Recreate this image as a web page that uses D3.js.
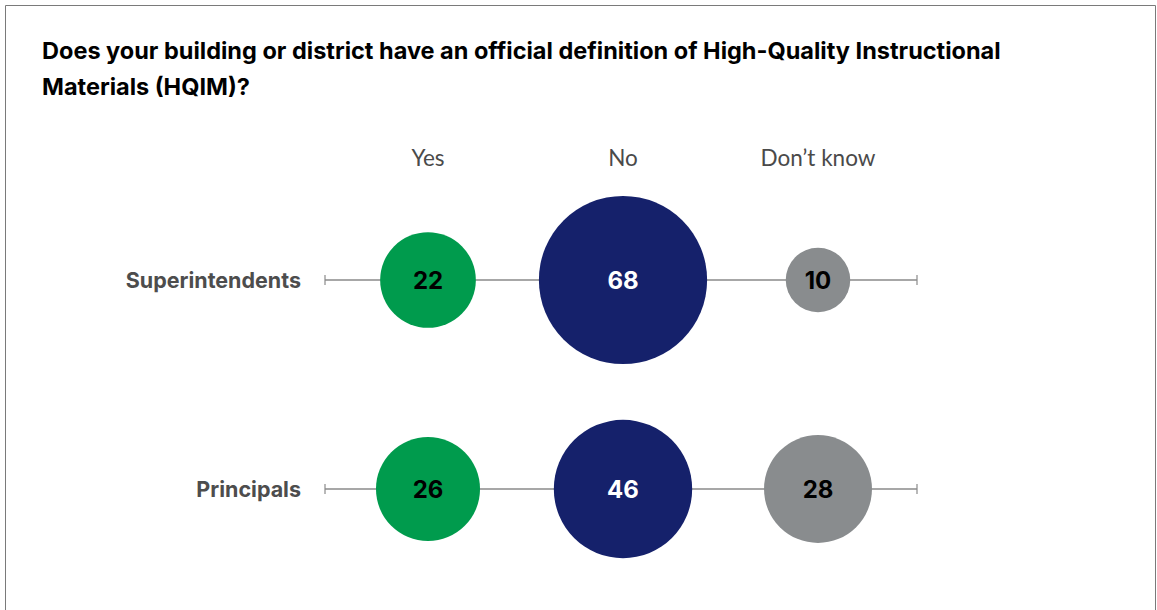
<!DOCTYPE html>
<html>
<head>
<meta charset="utf-8">
<script src="https://cdn.jsdelivr.net/npm/d3@7"></script>
<style>
  body { margin: 0; background: #fff; }
  svg { display: block; }
</style>
</head>
<body>
<svg width="1157" height="610"></svg>
<script>
var svg = d3.select('svg');

// data
const answers = ["Yes", "No", "Don\u2019t know"];
const groups = ["Superintendents", "Principals"];
const superintendents = [22, 68, 10];
const principals = [26, 46, 28];
const title = [
    "Does your building or district have an official definition of High-Quality Instructional",
    "Materials (HQIM)?"
];
const colors = ["#009b4d", "#15216b", "#898c8e"];
const labelColors = ["#000", "#fff", "#000"];

var values = [superintendents, principals];

// scales
var xScale = d3.scalePoint()
    .domain(answers)
    .range([428, 818]);

var yScale = d3.scalePoint()
    .domain(groups)
    .range([280, 489]);

var rScale = d3.scaleSqrt()
    .domain([0, 100])
    .range([0, 102]);

var colorScale = d3.scaleOrdinal().domain(answers).range(colors);
var labelScale = d3.scaleOrdinal().domain(answers).range(labelColors);

// frame
svg.append("path")
    .attr("d", "M5.5,615V5.5H1155.5V615")
    .style("fill", "none")
    .style("stroke", "#7a7a7a")
    .style("stroke-width", 1);

// title
svg.append("g").selectAll("text")
    .data(title)
    .enter()
    .append("text")
    .attr("x", 42)
    .attr("y", (d, i) => 59 + i * 36)
    .style("font-family", "Inter, Roboto, sans-serif")
    .style("font-weight", "700")
    .style("font-size", "23.5px")
    .style("fill", "#000")
    .text(d => d);

// column headers
svg.append("g").selectAll("text")
    .data(answers)
    .enter()
    .append("text")
    .attr("x", d => xScale(d))
    .attr("y", 166)
    .attr("text-anchor", "middle")
    .style("font-family", "Lato, sans-serif")
    .style("font-size", "22.5px")
    .style("fill", "#4a4a4a")
    .text(d => d);

var lineStart = 325;
var lineEnd = 917;

var rows = svg.selectAll(".row")
    .data(groups)
    .enter()
    .append("g")
    .attr("class", "row")
    .attr("transform", d => "translate(0," + yScale(d) + ")");

rows.append("text")
    .attr("x", 301)
    .attr("y", 0)
    .attr("dy", "0.35em")
    .attr("text-anchor", "end")
    .style("font-family", "Inter, Roboto, sans-serif")
    .style("font-weight", "700")
    .style("font-size", "21.5px")
    .style("fill", "#4d4d4d")
    .text(d => d);

rows.append("line")
    .attr("x1", lineStart)
    .attr("x2", lineEnd)
    .style("stroke", "#8a8a8a")
    .style("stroke-width", 1.5);

// end ticks
rows.selectAll(".tick")
    .data([lineStart, lineEnd])
    .enter()
    .append("line")
    .attr("class", "tick")
    .attr("x1", d => d)
    .attr("x2", d => d)
    .attr("y1", -5)
    .attr("y2", 5)
    .style("stroke", "#8a8a8a")
    .style("stroke-width", 1.2);

var bubbles = rows.selectAll(".bubble")
    .data((g, i) => answers.map((a, j) => ({answer: a, value: values[i][j]})))
    .enter()
    .append("g")
    .attr("class", "bubble")
    .attr("transform", d => "translate(" + xScale(d.answer) + ",0)");

bubbles.append("circle")
    .attr("r", d => rScale(d.value))
    .style("fill", d => colorScale(d.answer));

bubbles.append("text")
    .attr("text-anchor", "middle")
    .attr("dy", "0.36em")
    .style("font-family", "Inter, Roboto, sans-serif")
    .style("font-weight", "700")
    .style("font-size", "24px")
    .style("fill", d => labelScale(d.answer))
    .text(d => d.value);
</script>
</body>
</html>
